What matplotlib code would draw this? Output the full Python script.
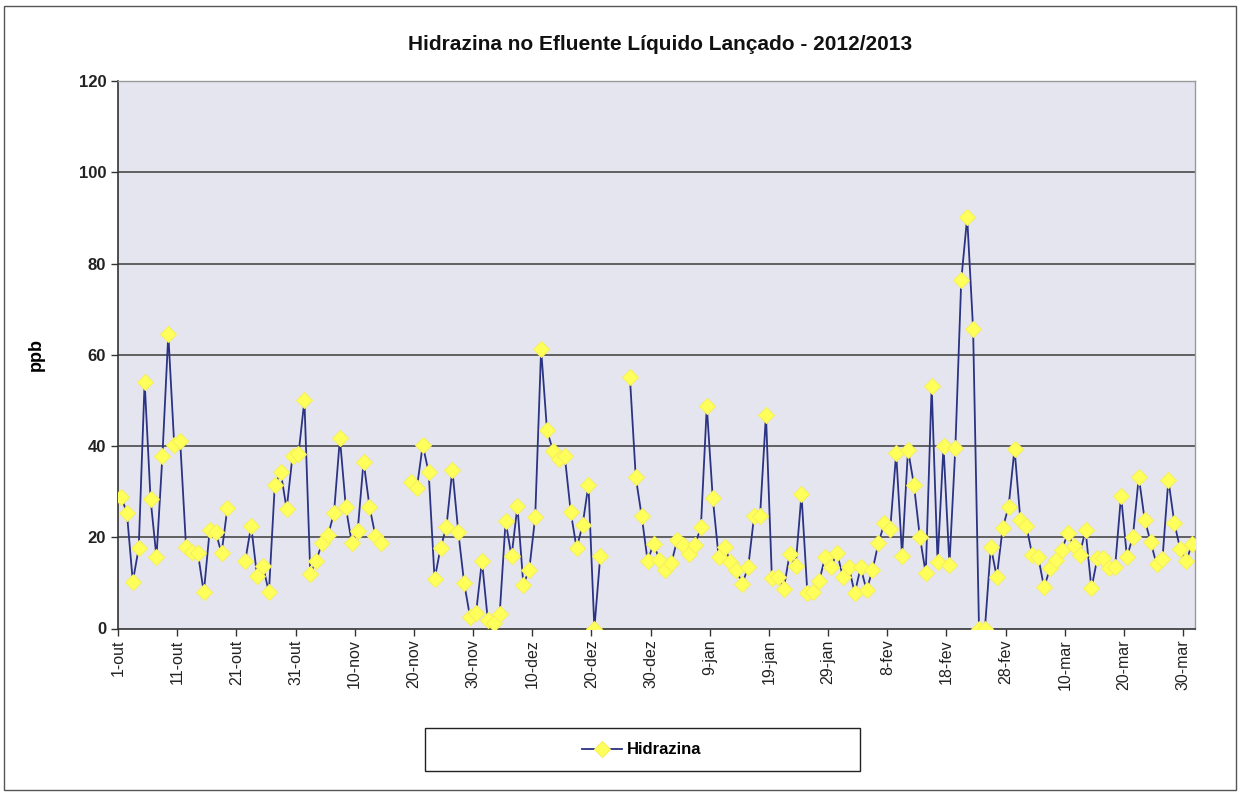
import numpy as np
import pandas as pd
import matplotlib
matplotlib.use("Agg")
import matplotlib.pyplot as plt
from matplotlib.patches import Rectangle

plt.rcParams['font.family'] = ['Liberation Sans', 'DejaVu Sans']

# ---- data ----
start_date = "2012-10-01"
nan = np.nan
hidrazina = [
    28.9, 25.4, 10.3, 17.6, 54.1, 28.4, 15.6, 37.7, 64.5, 40.3,
    41.2, 17.9, 16.8, 16.5, 7.9, 21.6, 21.1, 16.5, 26.5, nan,
    nan, 14.8, 22.5, 11.5, 13.7, 7.9, 31.5, 34.2, 26.2, 37.9,
    38.2, 50.0, 11.9, 14.9, 18.8, 20.5, 25.3, 41.7, 26.6, 18.8,
    21.4, 36.6, 26.7, 20.3, 18.7, nan, nan, nan, nan, 32.1,
    30.8, 40.2, 34.2, 10.8, 17.6, 22.3, 34.8, 21.2, 9.9, 2.5,
    3.3, 14.8, 1.8, 1.1, 3.2, 23.5, 15.8, 26.8, 9.6, 12.9,
    24.4, 61.2, 43.4, 39.0, 37.2, 37.8, 25.6, 17.6, 22.6, 31.5,
    0.0, 15.9, nan, nan, nan, nan, 55.2, 33.1, 24.6, 14.8,
    18.6, 15.0, 12.8, 14.3, 19.4, 18.3, 16.3, 18.3, 22.2, 48.7,
    28.7, 15.7, 17.9, 14.6, 12.8, 9.8, 13.5, 24.7, 24.7, 46.9,
    11.0, 11.3, 8.7, 16.3, 13.6, 29.4, 7.7, 8.0, 10.4, 15.7,
    13.5, 16.6, 11.3, 13.5, 7.7, 13.4, 8.4, 12.8, 18.7, 23.1,
    21.8, 38.4, 16.0, 39.2, 31.5, 20.1, 12.1, 53.2, 14.5, 40.0,
    14.0, 39.6, 76.4, 90.1, 65.7, 0.0, 0.0, 17.9, 11.3, 22.0,
    26.7, 39.4, 23.7, 22.5, 16.1, 15.7, 9.0, 13.2, 15.0, 17.2,
    20.9, 18.1, 16.1, 21.6, 8.8, 15.4, 15.4, 13.2, 13.5, 29.1,
    15.7, 20.1, 33.2, 23.8, 19.0, 14.1, 15.2, 32.6, 23.2, 17.4,
    14.7, 18.5,
]
tick_labels = ["1-out", "11-out", "21-out", "31-out", "10-nov", "20-nov",
               "30-nov", "10-dez", "20-dez", "30-dez", "9-jan", "19-jan",
               "29-jan", "8-fev", "18-fev", "28-fev", "10-mar", "20-mar",
               "30-mar"]
y_ticks = [0, 20, 40, 60, 80, 100, 120]
title = "Hidrazina no Efluente Líquido Lançado - 2012/2013"
ylabel = "ppb"
series_name = "Hidrazina"

# ---- figure ----
W, H = 1240, 796
fig = plt.figure(figsize=(W / 100, H / 100), dpi=100)
fig.patch.set_facecolor("white")
fig.patches.append(Rectangle((4 / W, 6 / H), (W - 8) / W, (H - 12) / H,
                             transform=fig.transFigure, fill=False,
                             edgecolor="#555555", linewidth=1.0))
# legend box
fig.patches.append(Rectangle((425 / W, 1 - 771 / H), 435 / W, 43 / H,
                             transform=fig.transFigure, fill=True,
                             facecolor="white", edgecolor="#222222",
                             linewidth=1.0, zorder=0))

ax = fig.add_axes([118 / W, 1 - 628.5 / H, (1195 - 118) / W, (628.5 - 81) / H])
ax.set_facecolor("#E5E5EF")

dates = pd.date_range(start_date, periods=len(hidrazina), freq="D")
x0 = pd.Timestamp(start_date)
xpos = np.array([(d - x0).days for d in dates]) + 0.5

ax.plot(xpos, hidrazina, color="#2B3383", linewidth=1.3, marker="D",
        markersize=7.8, markerfacecolor="#FFFF5C", markeredgecolor="#F6F05A",
        markeredgewidth=0.8, label=series_name, zorder=3)

ax.set_xlim(0, len(hidrazina))
ax.set_ylim(0, 120)
ax.set_yticks(y_ticks)
ax.set_xticks(np.arange(len(tick_labels)) * 10)
ax.set_xticklabels(tick_labels, rotation=90, fontsize=11.5, color="#222222")
ax.set_yticklabels([str(v) for v in y_ticks], fontsize=12,
                   fontweight="bold", color="#222222")
ax.tick_params(axis="both", direction="out", length=5, width=1,
               color="#333333")
ax.tick_params(axis="x", pad=3)

for v in y_ticks[1:-1]:
    ax.axhline(v, color="#3C3C3C", linewidth=1.1, zorder=1)

for s in ["top", "right"]:
    ax.spines[s].set_color("#9A9A9A")
    ax.spines[s].set_linewidth(1.0)
for s in ["left", "bottom"]:
    ax.spines[s].set_color("#333333")
    ax.spines[s].set_linewidth(1.2)

ax.set_ylabel(ylabel, fontsize=13, fontweight="bold")
ax.yaxis.set_label_coords(-0.068, 0.5)
fig.text(660 / W, 1 - 44 / H, title, ha="center", va="center",
         fontsize=15, fontweight="bold", color="#111111")

leg = fig.legend(loc="center", bbox_to_anchor=(642 / W, 1 - 750 / H),
                 frameon=False, prop={"size": 12, "weight": "bold"},
                 handlelength=2.4, handletextpad=0.3)

fig.savefig("out.png", dpi=100)
